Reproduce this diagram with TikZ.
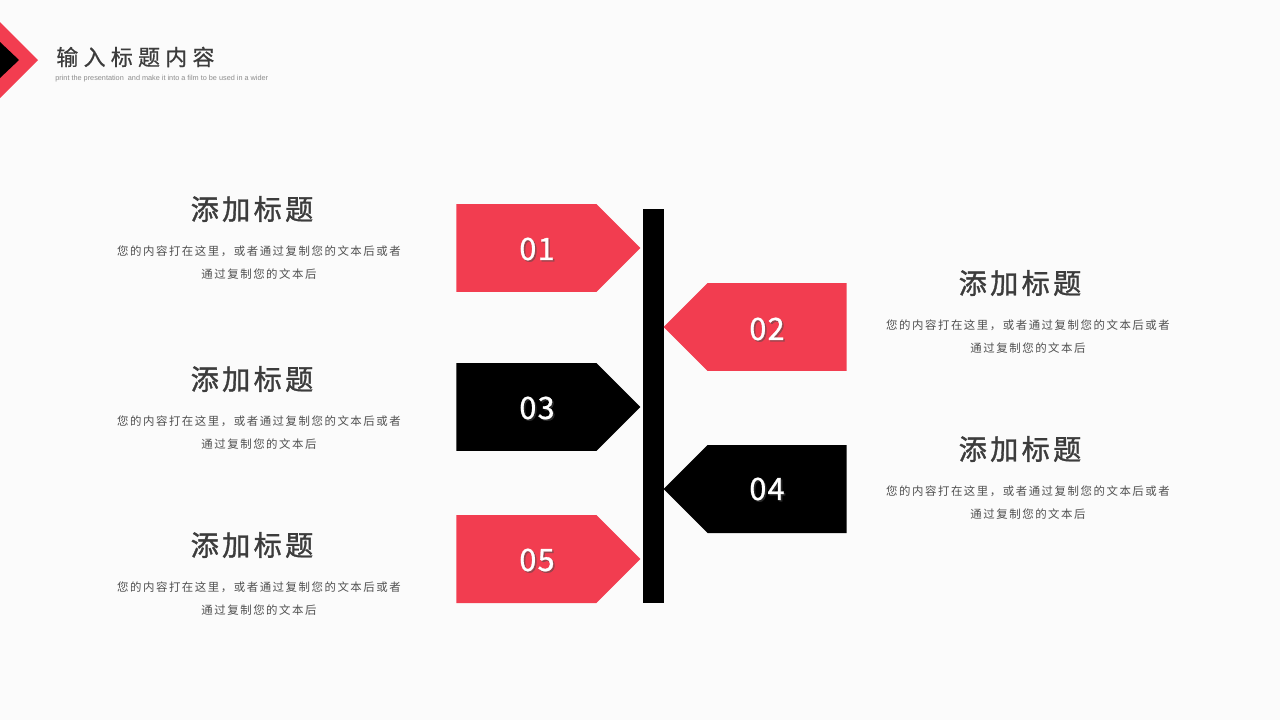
\documentclass[tikz,border=0pt]{standalone}
\usepackage{fontspec}
\setmainfont{Liberation Sans}
\newfontfamily\cjkhead{Noto Sans CJK SC}[LetterSpace=24, FakeBold=0.6]
\newfontfamily\cjktitle{Noto Sans CJK SC}[LetterSpace=12, FakeBold=1.2]
\newfontfamily\cjkbody{Noto Sans CJK SC}[LetterSpace=13.5]
\newfontfamily\numfont{Noto Sans CJK SC}[LetterSpace=4, FakeBold=0.8]
\usetikzlibrary{shapes.symbols, positioning}

\definecolor{tagred}{HTML}{F23D50}
\definecolor{bgcolor}{HTML}{FBFBFB}
\definecolor{titlegray}{HTML}{3C3C3C}
\definecolor{bodygray}{HTML}{505050}

\begin{document}
\begin{tikzpicture}[
    x=0.02cm, y=-0.02cm,
    tagleft/.style={signal, signal to=east, signal from=nowhere, fill=tagred, anchor=west, minimum width=3.68cm, minimum height=1.76cm, inner sep=0pt},
    tagright/.style={signal, signal to=west, signal from=nowhere, fill=tagred, anchor=east, minimum width=3.66cm, minimum height=1.76cm, inner sep=0pt},
    bar/.style={rectangle, fill=black, minimum width=0.42cm, minimum height=7.88cm, inner sep=0pt},
    num/.style={font=\numfont\fontsize{17.5}{20}\selectfont, text=white, inner sep=0pt},
    numshadow/.style={font=\numfont\fontsize{17.5}{20}\selectfont, text=black!70, opacity=0.5, inner sep=0pt},
    title/.style={font=\cjktitle\fontsize{16}{18}\selectfont, text=titlegray, inner sep=0pt},
    body/.style={font=\cjkbody\fontsize{6.5}{13.4}\selectfont, text=bodygray, align=center, inner sep=0pt},
]

%% PAGE
    \fill[bgcolor] (0,0) rectangle (1280,720);
    \useasboundingbox (0,0) rectangle (1280,720);

%% HEADER
    \fill[tagred] (-38,60) -- (0,22) -- (38,60) -- (0,98) -- cycle;
    \fill[black] (0,42) -- (19,60) -- (0,78) -- cycle;
    \node[font=\cjkhead\fontsize{12.5}{14}\selectfont, text=titlegray, anchor=west, inner sep=0pt] (head) at (56,57) {输入标题内容};
    \node[font=\fontsize{4.15}{5}\selectfont, text=black!45, anchor=west, inner sep=0pt] (subhead) at (55,78.5) {print the presentation\ \ and make it into a film to be used in a wider};

%% TIMELINE
    \node[bar] (spine) at (653.5,406) {};

    % left tags
    \node[tagleft] (tag1) at (456,248) {};
    \node[tagleft, fill=black] (tag3) at (456,407) {};
    \node[tagleft] (tag5) at (456,559) {};

    % right tags
    \node[tagright] (tag2) at (847,327) {};
    \node[tagright, fill=black] (tag4) at (847,489) {};

    % numbers
    \node[numshadow] (num1s) at (538.5,250.5) {01};
    \node[num] (num1) at (537,249) {01};
    \node[numshadow] (num2s) at (768.5,330.5) {02};
    \node[num] (num2) at (767,329) {02};
    \node[numshadow] (num3s) at (538.5,409.5) {03};
    \node[num] (num3) at (537,408) {03};
    \node[numshadow] (num4s) at (768.5,490.5) {04};
    \node[num] (num4) at (767,489) {04};
    \node[numshadow] (num5s) at (538.5,561.5) {05};
    \node[num] (num5) at (537,560) {05};

%% TEXT
    % left column
    \node[title] (title1) at (252,209) {添加标题};
    \node[body] (body1) at (259,262.5) {您的内容打在这里，或者通过复制您的文本后或者\\通过复制您的文本后};
    \node[title] (title3) at (252,379) {添加标题};
    \node[body] (body3) at (259,432.5) {您的内容打在这里，或者通过复制您的文本后或者\\通过复制您的文本后};
    \node[title] (title5) at (252,545) {添加标题};
    \node[body] (body5) at (259,598.5) {您的内容打在这里，或者通过复制您的文本后或者\\通过复制您的文本后};

    % right column
    \node[title] (title2) at (1020,283) {添加标题};
    \node[body] (body2) at (1028,336.5) {您的内容打在这里，或者通过复制您的文本后或者\\通过复制您的文本后};
    \node[title] (title4) at (1020,449) {添加标题};
    \node[body] (body4) at (1028,502.5) {您的内容打在这里，或者通过复制您的文本后或者\\通过复制您的文本后};

\end{tikzpicture}
\end{document}
